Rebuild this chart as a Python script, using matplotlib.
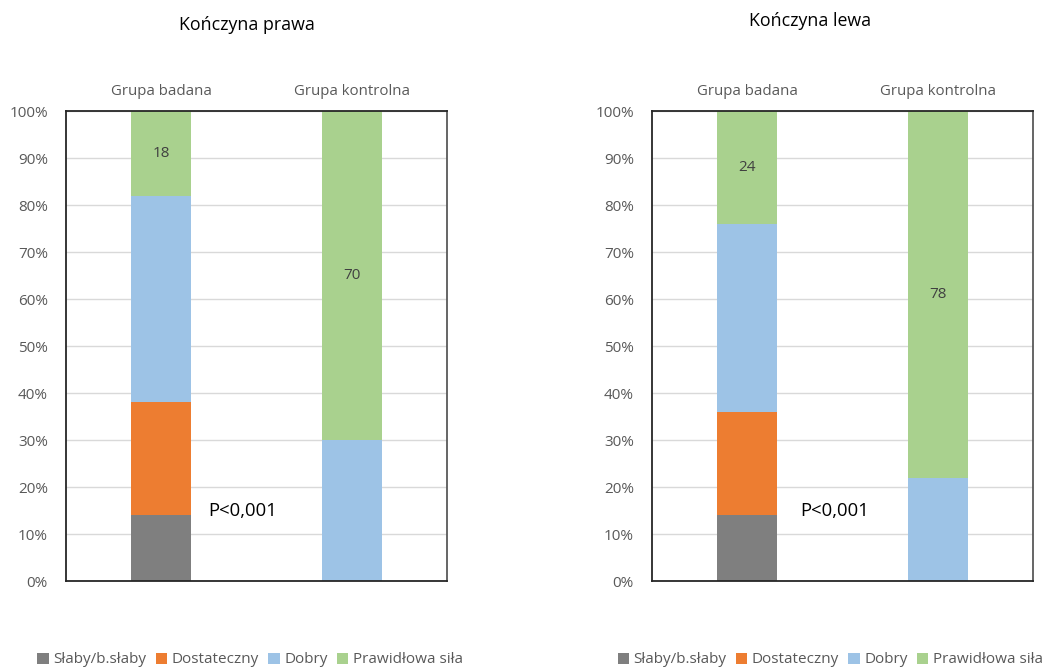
import matplotlib
matplotlib.use("Agg")
import matplotlib.pyplot as plt
from matplotlib.patches import Patch
from matplotlib.ticker import PercentFormatter

plt.rcParams['font.family'] = ['Open Sans', 'DejaVu Sans']

groups = ["Grupa badana", "Grupa kontrolna"]
levels = ["Słaby/b.słaby", "Dostateczny", "Dobry", "Prawidłowa siła"]
colors = ["#7f7f7f", "#ed7d31", "#9dc3e6", "#a9d18e"]

# percentage shares per level, for [Grupa badana, Grupa kontrolna]
right_limb = {
    "Słaby/b.słaby": [14, 0],
    "Dostateczny": [24, 0],
    "Dobry": [44, 30],
    "Prawidłowa siła": [18, 70],
}
left_limb = {
    "Słaby/b.słaby": [14, 0],
    "Dostateczny": [22, 0],
    "Dobry": [40, 22],
    "Prawidłowa siła": [24, 78],
}

titles = ["Kończyna prawa", "Kończyna lewa"]
p_text = "P<0,001"

fig = plt.figure(figsize=(10.51, 6.70), dpi=100)
axes = [fig.add_axes([0.0628, 0.1328, 0.3625, 0.7015]),
        fig.add_axes([0.6204, 0.1328, 0.3625, 0.7015])]

tick_color = "#595959"
x = [0, 1]
for ax, data, p_x in zip(axes, [right_limb, left_limb], [0.43, 0.46]):
    bottom = [0, 0]
    for lev, col in zip(levels, colors):
        vals = data[lev]
        ax.bar(x, vals, width=0.316, bottom=bottom, color=col, zorder=3)
        if lev == "Prawidłowa siła":
            for xi, v, b in zip(x, vals, bottom):
                ax.text(xi, b + v / 2, f"{v}", ha="center", va="center",
                        fontsize=11, color="#404040", zorder=4)
        bottom = [b + v for b, v in zip(bottom, vals)]
    ax.set_xlim(-0.5, 1.5)
    ax.set_ylim(0, 100)
    ax.set_yticks(range(0, 101, 10))
    ax.yaxis.set_major_formatter(PercentFormatter(decimals=0))
    ax.grid(axis="y", color="#d9d9d9", linewidth=1, zorder=0)
    ax.xaxis.tick_top()
    ax.set_xticks(x)
    ax.set_xticklabels(groups)
    ax.tick_params(axis="x", length=0, pad=9, labelsize=10.8, labelcolor=tick_color)
    ax.tick_params(axis="y", length=0, pad=13, labelsize=11, labelcolor=tick_color)
    for s in ax.spines.values():
        s.set_color("#262626")
        s.set_linewidth(1.3)
        s.set_zorder(5)
    ax.spines["right"].set_color("#595959")
    ax.text(p_x, 15, p_text, ha="center", va="center", fontsize=13.3,
            color="black", zorder=4)

fig.text(0.235, 0.963, titles[0], ha="center", va="center", fontsize=12.8, color="black")
fig.text(0.771, 0.969, titles[1], ha="center", va="center", fontsize=12.8, color="black")

handles = [Patch(facecolor=c, edgecolor="none") for c in colors]
for cx in [0.238, 0.79]:
    fig.legend(handles, levels, loc="center", bbox_to_anchor=(cx, 0.015),
               ncol=4, frameon=False, fontsize=11, labelcolor=tick_color,
               handlelength=0.75, handleheight=0.75, handletextpad=0.3,
               columnspacing=0.6, borderpad=0.1)

fig.savefig("out.png", dpi=100)
